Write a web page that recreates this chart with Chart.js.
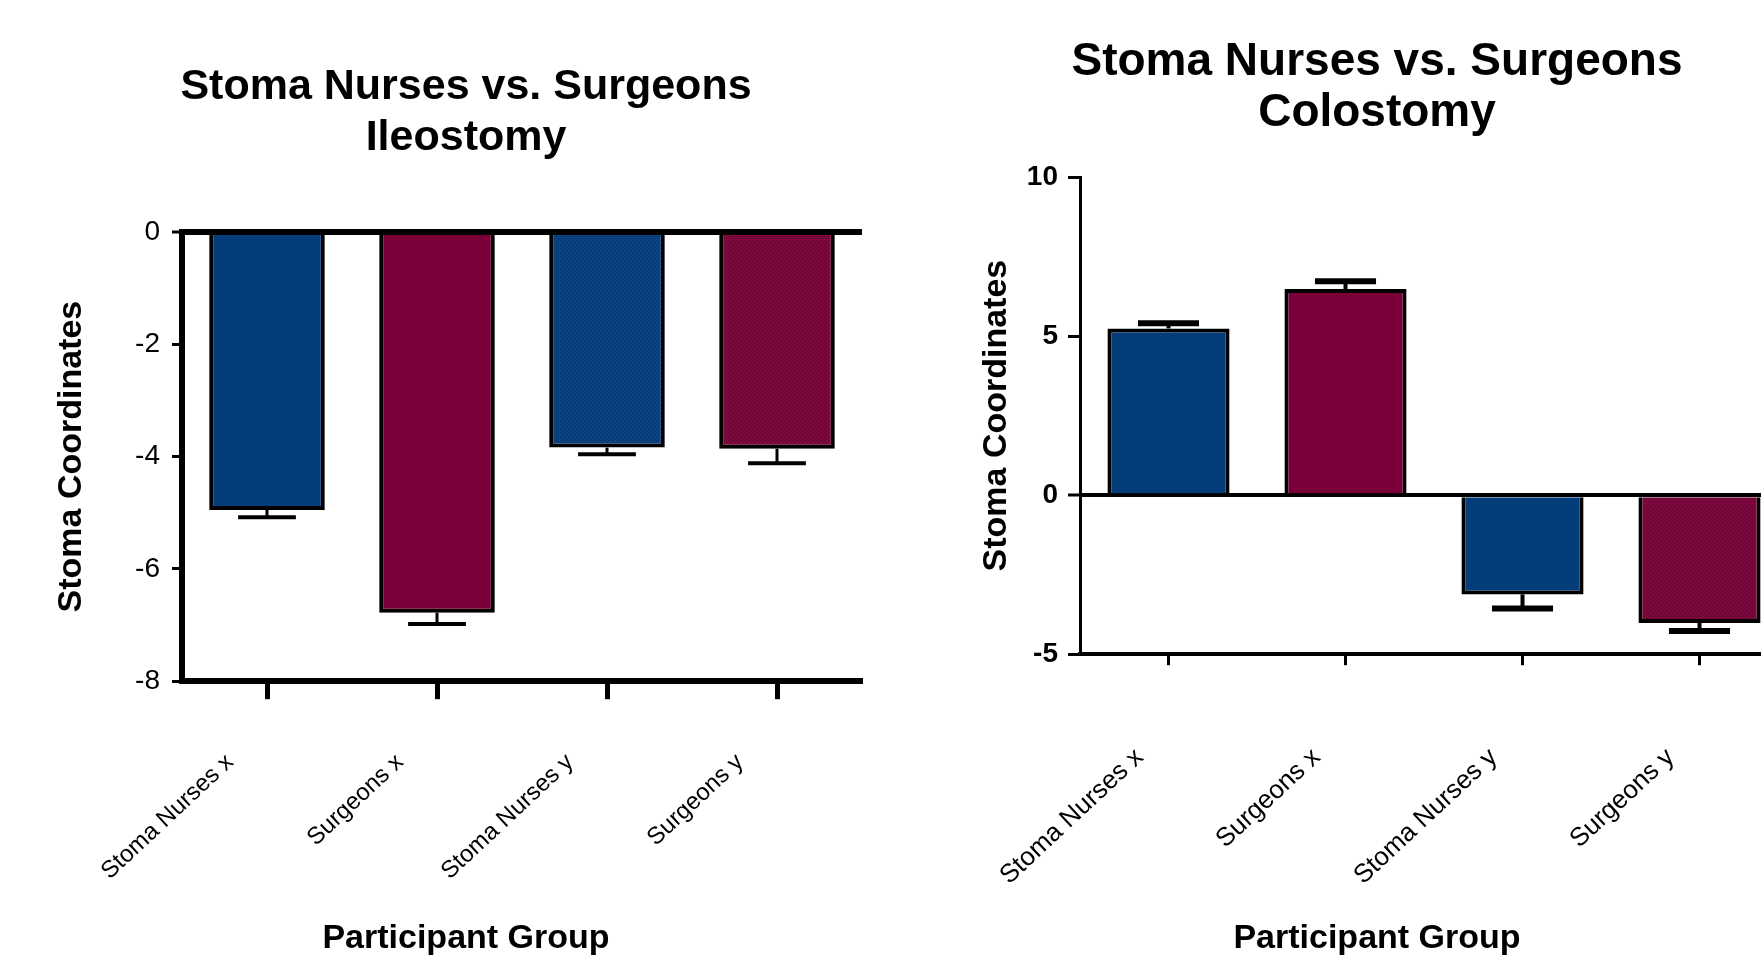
<!DOCTYPE html>
<html>
<head>
<meta charset="utf-8">
<title>Stoma Nurses vs. Surgeons</title>
<script src="https://cdn.jsdelivr.net/npm/chart.js@4.4.0/dist/chart.umd.min.js"></script>
<style>
  html, body { margin: 0; padding: 0; background: #fff; overflow: hidden; width: 1761px; height: 957px; }
  canvas { position: absolute; top: 0; }
  #ileo { left: 0; }
  #colo { left: 900px; }
</style>
</head>
<body>
<canvas id="ileo" width="880" height="957"></canvas>
<canvas id="colo" width="900" height="957"></canvas>
<script>
// data
const categories = ['Stoma Nurses x', 'Surgeons x', 'Stoma Nurses y', 'Surgeons y'];

const ileoMeans = [-4.95, -6.78, -3.84, -3.86];
const ileoErrors = [0.13, 0.2, 0.12, 0.26];
const ileoTicks = [0, -2, -4, -6, -8];

const coloMeans = [5.24, 6.48, -3.12, -4.02];
const coloErrors = [0.16, 0.24, 0.44, 0.25];
const coloTicks = [10, 5, 0, -5];

const BLUE = '#053c7a';
const MAROON = '#7b003a';
const FONT = "'Liberation Sans', Arial, Helvetica, sans-serif";

Chart.defaults.font.family = FONT;
Chart.defaults.color = '#000';

// small dot texture used on some bars
function dotted(canvas, base, dot) {
    const c = document.createElement('canvas');
    c.width = 4; c.height = 4;
    const g = c.getContext('2d');
    g.fillStyle = base;
    g.fillRect(0, 0, 4, 4);
    g.fillStyle = dot;
    g.fillRect(0, 0, 1, 1);
    g.fillRect(2, 2, 1, 1);
    return canvas.getContext('2d').createPattern(c, 'repeat');
}

// error bars drawn away from zero
function errorBars(errors, stemWidth, capWidth) {
    return {
        id: 'errorBars',
        afterDatasetsDraw(chart) {
            const ctx = chart.ctx;
            const yScale = chart.scales.y;
            const values = chart.data.datasets[0].data;
            const meta = chart.getDatasetMeta(0);
            ctx.save();
            ctx.strokeStyle = '#000';
            meta.data.forEach((bar, i) => {
                const v = values[i];
                const dir = v < 0 ? -1 : 1;
                const yEnd = yScale.getPixelForValue(v + dir * errors[i]);
                const half = bar.width * 0.25;
                ctx.lineWidth = stemWidth;
                ctx.beginPath();
                ctx.moveTo(bar.x, bar.y);
                ctx.lineTo(bar.x, yEnd);
                ctx.stroke();
                ctx.lineWidth = capWidth;
                ctx.beginPath();
                ctx.moveTo(bar.x - half, yEnd);
                ctx.lineTo(bar.x + half, yEnd);
                ctx.stroke();
            });
            ctx.restore();
        }
    };
}

function makeChart(canvas, cfg) {
    return new Chart(canvas, {
        type: 'bar',
        data: {
            labels: categories,
            datasets: [{
                data: cfg.values,
                backgroundColor: cfg.colors,
                borderColor: '#000',
                borderWidth: 4,
                borderSkipped: 'start',
                barPercentage: cfg.barPct,
                categoryPercentage: 1
            }]
        },
        options: {
            animation: false,
            responsive: false,
            devicePixelRatio: 1,
            layout: { padding: { left: cfg.padLeft, right: cfg.padRight, top: 0, bottom: 0 } },
            plugins: {
                legend: { display: false },
                tooltip: { enabled: false },
                title: {
                    display: true,
                    text: cfg.title,
                    color: '#000',
                    font: { size: cfg.titleSize, weight: 'bold', lineHeight: 51 / cfg.titleSize },
                    padding: { top: cfg.titlePadTop, bottom: cfg.titlePadBottom }
                },
                subtitle: {
                    display: true,
                    position: 'bottom',
                    text: 'Participant Group',
                    color: '#000',
                    font: { size: 34, weight: 'bold', lineHeight: 1.2 },
                    padding: { top: 0, bottom: -2 }
                }
            },
            scales: {
                x: {
                    offset: true,
                    grid: {
                        display: true,
                        drawOnChartArea: false,
                        drawTicks: true,
                        offset: false,
                        tickLength: cfg.xTickLen,
                        tickWidth: cfg.xTickWidth,
                        tickColor: '#000'
                    },
                    border: { display: true, color: '#000', width: cfg.xBorder },
                    ticks: {
                        autoSkip: false,
                        minRotation: 43,
                        maxRotation: 43,
                        labelOffset: cfg.labelOffset,
                        padding: cfg.labelPad,
                        color: '#000',
                        font: { size: cfg.labelSize }
                    },
                    afterFit: s => { s.height = cfg.xHeight; }
                },
                y: {
                    z: 1,
                    min: cfg.min,
                    max: cfg.max,
                    afterBuildTicks: s => { s.ticks = cfg.ticks.map(v => ({ value: v })); },
                    grid: {
                        drawOnChartArea: true,
                        color: c => (c.tick && c.tick.value === 0 ? '#000' : 'rgba(0,0,0,0)'),
                        lineWidth: c => (c.tick && c.tick.value === 0 ? cfg.zeroWidth : 1),
                        tickLength: cfg.yTickLen,
                        tickWidth: 3,
                        tickColor: '#000'
                    },
                    border: { display: true, color: '#000', width: cfg.yBorder },
                    ticks: {
                        color: '#000',
                        padding: cfg.yTickPad,
                        font: { size: 28, weight: cfg.yTickWeight }
                    },
                    title: {
                        display: true,
                        text: 'Stoma Coordinates',
                        color: '#000',
                        font: { size: 34, weight: 'bold', lineHeight: 1.2 },
                        padding: { top: cfg.yTitlePad, bottom: 0 }
                    },
                    afterFit: s => { s.width = cfg.yWidth; }
                }
            }
        },
        plugins: [errorBars(cfg.errors, cfg.stemWidth, cfg.capWidth)]
    });
}

const ileoCanvas = document.getElementById('ileo');
makeChart(ileoCanvas, {
    values: ileoMeans,
    errors: ileoErrors,
    ticks: ileoTicks,
    min: -8, max: 0,
    colors: [BLUE, MAROON, dotted(ileoCanvas, '#0a4488', '#03264f'), dotted(ileoCanvas, '#84063f', '#4a0022')],
    barPct: 0.68,
    padLeft: 70, padRight: 18,
    title: ['Stoma Nurses vs. Surgeons', 'Ileostomy'],
    titleSize: 43, titlePadTop: 61.5, titlePadBottom: 68.5,
    xTickLen: 18, xTickWidth: 5, xBorder: 6,
    labelOffset: -37, labelPad: 49, labelSize: 24,
    xHeight: 237,
    zeroWidth: 6, yTickLen: 10, yBorder: 6, yTickPad: 12, yTickWeight: 'normal',
    yTitlePad: -19, yWidth: 112,
    stemWidth: 3, capWidth: 4
});

const coloCanvas = document.getElementById('colo');
makeChart(coloCanvas, {
    values: coloMeans,
    errors: coloErrors,
    ticks: coloTicks,
    min: -5, max: 10,
    colors: [BLUE, MAROON, BLUE, dotted(coloCanvas, '#84063f', '#4a0022')],
    barPct: 0.69,
    padLeft: 66, padRight: 12,
    title: ['Stoma Nurses vs. Surgeons', 'Colostomy'],
    titleSize: 46, titlePadTop: 36.5, titlePadBottom: 38.5,
    xTickLen: 11, xTickWidth: 3, xBorder: 4,
    labelOffset: -29, labelPad: 77, labelSize: 26,
    xHeight: 264,
    zeroWidth: 4, yTickLen: 12, yBorder: 3, yTickPad: 10, yTickWeight: 'bold',
    yTitlePad: 10.6, yWidth: 114,
    stemWidth: 4, capWidth: 6
});
</script>
</body>
</html>
